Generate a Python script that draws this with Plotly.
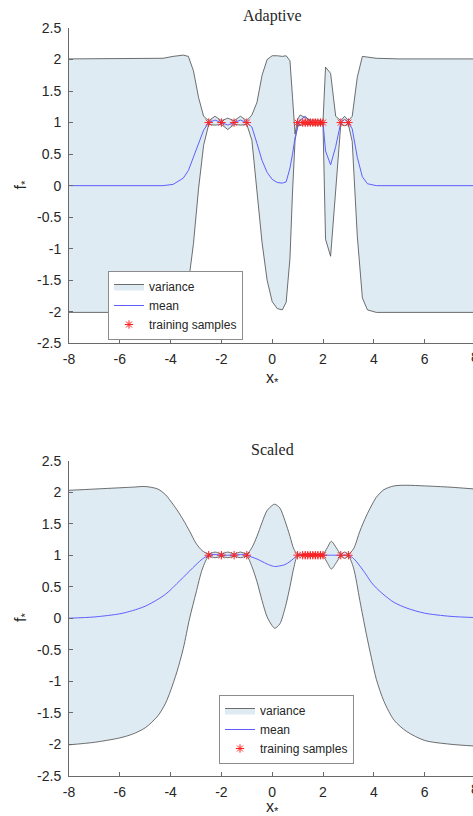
import plotly.graph_objects as go

# ---------------- data ----------------
adaptive_x = [-8, -6, -5, -4.3, -3.9, -3.5, -3.3, -3.1, -2.9, -2.7,
              -2.5, -2.25, -2.0, -1.75, -1.5, -1.25, -1.0, -0.8, -0.6, -0.4,
              -0.2, 0.0, 0.2, 0.4, 0.55, 0.7, 0.8, 0.9, 1.0, 1.1,
              1.3, 1.5, 1.7, 2.0, 2.1, 2.3, 2.5, 2.7, 2.85, 3.0,
              3.15, 3.35, 3.55, 3.75, 4.1, 5, 6, 8]
adaptive_upper = [2.01, 2.01, 2.01, 2.02, 2.05, 2.07, 2.05, 1.82, 1.40, 1.10,
                  1.03, 1.10, 1.03, 1.07, 1.03, 1.10, 1.03, 1.12, 1.32, 1.75,
                  2.00, 2.06, 2.06, 2.05, 2.06, 1.98, 1.40, 0.82, 1.05, 1.12,
                  1.08, 1.04, 1.04, 1.02, 1.88, 1.78, 1.10, 1.03, 1.10, 1.03,
                  1.10, 1.72, 2.05, 2.04, 2.02, 2.01, 2.01, 2.01]
adaptive_mean = [0.0, 0.0, 0.0, 0.0, 0.02, 0.12, 0.24, 0.46, 0.68, 0.88,
                 1.0, 1.04, 1.0, 0.96, 1.0, 1.04, 1.0, 0.93, 0.67, 0.40,
                 0.21, 0.10, 0.05, 0.04, 0.06, 0.28, 0.50, 0.76, 0.92, 1.04,
                 1.10, 1.02, 1.0, 1.0, 0.55, 0.33, 0.62, 1.0, 1.05, 1.0,
                 0.90, 0.45, 0.14, 0.03, 0.0, 0.0, 0.0, 0.0]
adaptive_lower = [-2.01, -2.01, -2.01, -2.02, -2.01, -1.83, -1.55, -0.92, -0.05, 0.64,
                  0.97, 0.96, 0.97, 0.89, 0.97, 0.96, 0.97, 0.72, -0.10, -0.90,
                  -1.50, -1.84, -1.95, -1.97, -1.85, -1.15, -0.10, 0.72, 0.95, 0.96,
                  0.97, 0.97, 0.96, 0.97, -0.85, -1.12, -0.10, 0.97, 0.95, 0.97,
                  0.70, -0.80, -1.78, -1.97, -2.01, -2.01, -2.01, -2.01]

scaled_x = [-8, -7, -6, -5.5, -5.0, -4.5, -4.2, -4.0, -3.75, -3.5,
            -3.25, -3.0, -2.75, -2.5, -2.25, -2.0, -1.75, -1.5, -1.25, -1.0,
            -0.8, -0.6, -0.4, -0.2, 0.0, 0.1, 0.3, 0.5, 0.7, 0.85,
            1.0, 1.5, 2.0, 2.17, 2.33, 2.52, 2.7, 2.85, 3.0, 3.2,
            3.45, 3.7, 3.9, 4.1, 4.4, 4.8, 5.3, 6.0, 7.0, 8.0]
scaled_upper = [2.03, 2.05, 2.07, 2.08, 2.09, 2.05, 1.96, 1.86, 1.72, 1.56,
                1.38, 1.19, 1.07, 1.02, 1.05, 1.02, 1.05, 1.02, 1.05, 1.02,
                1.12, 1.30, 1.52, 1.71, 1.79, 1.81, 1.75, 1.55, 1.30, 1.10,
                1.02, 1.02, 1.02, 1.12, 1.22, 1.12, 1.02, 1.05, 1.02, 1.10,
                1.38, 1.62, 1.78, 1.92, 2.04, 2.10, 2.11, 2.10, 2.08, 2.05]
scaled_mean = [0.0, 0.02, 0.07, 0.12, 0.19, 0.30, 0.38, 0.45, 0.55, 0.65,
               0.75, 0.85, 0.94, 1.0, 1.01, 1.0, 1.0, 1.0, 1.01, 1.0,
               0.97, 0.94, 0.90, 0.86, 0.83, 0.82, 0.83, 0.85, 0.90, 0.95,
               1.0, 1.0, 1.0, 1.0, 1.0, 1.0, 1.0, 1.0, 1.0, 0.95,
               0.83, 0.69, 0.57, 0.48, 0.37, 0.25, 0.16, 0.08, 0.03, 0.01]
scaled_lower = [-2.01, -1.97, -1.90, -1.84, -1.74, -1.55, -1.35, -1.15, -0.85, -0.48,
                0.0, 0.40, 0.78, 0.98, 0.96, 0.98, 0.96, 0.98, 0.96, 0.98,
                0.82, 0.58, 0.28, 0.02, -0.12, -0.16, -0.09, 0.15, 0.50, 0.80,
                0.98, 0.98, 0.98, 0.88, 0.78, 0.88, 0.98, 0.95, 0.98, 0.80,
                0.28, -0.24, -0.62, -0.97, -1.32, -1.62, -1.80, -1.94, -2.00, -2.03]

train_x = [-2.5, -2.0, -1.5, -1.0, 1.0, 1.2, 1.3, 1.4, 1.5, 1.6, 1.7, 1.8, 1.9, 2.0, 2.7, 3.0]
train_y = [1.0, 1.0, 1.0, 1.0, 1.0, 1.0, 1.0, 1.0, 1.0, 1.0, 1.0, 1.0, 1.0, 1.0, 1.0, 1.0]

x_ticks = [-8, -6, -4, -2, 0, 2, 4, 6, 8]
x_ticktext = ['-8', '-6', '-4', '-2', '0', '2', '4', '6', '8']
y_ticks = [-2.5, -2, -1.5, -1, -0.5, 0, 0.5, 1, 1.5, 2, 2.5]
y_ticktext = ['-2.5', '-2', '-1.5', '-1', '-0.5', '0', '0.5', '1', '1.5', '2', '2.5']

# ---------------- styling ----------------
FILL = '#deebf3'
EDGE = '#4a4a4a'
MEAN = '#5f5fff'
STAR = '#ff2020'
SANS = 'Liberation Sans, Arial, Helvetica, sans-serif'
SERIF = 'Liberation Serif, Times New Roman, serif'
AXC = '#6a6a6a'
TXT = '#262626'

W, H = 473, 816
L = 69
PXU = 25.4                       # pixels per x unit in the reference
XMAX = -8 + (W - L) / PXU        # visible right end (reference is cut at the window edge)

fig = go.Figure()


def add_panel(xs, up, mn, lo, xa, ya, leg, shape):
    # variance band: lower edge first, then the upper edge filled down to it
    fig.add_trace(go.Scatter(
        x=xs, y=lo, mode='lines', line=dict(color=EDGE, width=0.8, shape=shape, smoothing=0.8),
        showlegend=False, xaxis=xa, yaxis=ya, legend=leg, hoverinfo='skip'))
    fig.add_trace(go.Scatter(
        x=xs, y=up, mode='lines', fill='tonexty', fillcolor=FILL,
        line=dict(color=EDGE, width=0.8, shape=shape, smoothing=0.8),
        name='variance', xaxis=xa, yaxis=ya, legend=leg, hoverinfo='skip'))
    fig.add_trace(go.Scatter(
        x=xs, y=mn, mode='lines', line=dict(color=MEAN, width=1, shape=shape, smoothing=0.8),
        name='mean', xaxis=xa, yaxis=ya, legend=leg))
    fig.add_trace(go.Scatter(
        x=train_x, y=train_y, mode='markers',
        marker=dict(symbol='asterisk-open', size=7, color=STAR, line=dict(color=STAR, width=1)),
        name='training samples', xaxis=xa, yaxis=ya, legend=leg))


add_panel(adaptive_x, adaptive_upper, adaptive_mean, adaptive_lower, 'x', 'y', 'legend', 'linear')
add_panel(scaled_x, scaled_upper, scaled_mean, scaled_lower, 'x2', 'y2', 'legend2', 'spline')


def xaxis(anchor):
    return dict(domain=[0, 1], anchor=anchor, range=[-8, XMAX], tickvals=x_ticks, ticktext=x_ticktext,
                ticks='inside', ticklen=4, tickcolor=AXC, showline=True, linecolor=AXC, linewidth=1,
                showgrid=False, zeroline=False, tickfont=dict(family=SANS, size=14, color=TXT),
                ticklabelstandoff=3, automargin=False)


def yaxis(anchor, dom):
    return dict(domain=dom, anchor=anchor, range=[-2.5, 2.5], tickvals=y_ticks, ticktext=y_ticktext,
                ticks='inside', ticklen=4, tickcolor=AXC, showline=True, linecolor=AXC, linewidth=1,
                showgrid=False, zeroline=False, tickfont=dict(family=SANS, size=14, color=TXT),
                ticklabelstandoff=4, automargin=False)


def py(px):
    return 1 - px / H


def pxx(px):
    return (px - L) / (W - L)


legend_style = dict(xanchor='left', yanchor='top', bgcolor='white', bordercolor='#8c8c8c',
                    borderwidth=1, font=dict(family=SANS, size=12, color=TXT),
                    tracegroupgap=0, itemwidth=30, traceorder='normal')


def ann(text, x, y, size, family=SANS, angle=0):
    return dict(text=text, x=pxx(x), y=py(y), xref='paper', yref='paper', showarrow=False,
                xanchor='center', yanchor='middle', textangle=angle,
                font=dict(family=family, size=size, color=TXT))


fig.update_layout(
    width=W, height=H, margin=dict(l=L, r=0, t=0, b=0, pad=0, autoexpand=False),
    plot_bgcolor='white', paper_bgcolor='white', showlegend=True,
    xaxis=xaxis('y'), yaxis=yaxis('x', [py(343.3), py(28)]),
    xaxis2=xaxis('y2'), yaxis2=yaxis('x2', [py(775.7), py(460.7)]),
    legend=dict(x=pxx(108), y=py(271), **legend_style),
    legend2=dict(x=pxx(219), y=py(695), **legend_style),
    annotations=[
        ann('Adaptive', 272, 16, 16, SERIF),
        ann('Scaled', 272, 449, 16, SERIF),
        ann('x<sub>*</sub>', 272, 378, 16),
        ann('x<sub>*</sub>', 272, 807, 16),
        ann('f<sub>*</sub>', 21, 185.5, 16, angle=-90),
        ann('f<sub>*</sub>', 21, 618, 16, angle=-90),
        # tick label "8" that sits on the window edge (partly cut off in the reference)
        ann(x_ticktext[-1], 69 + 16 * PXU, 357, 14),
        ann(x_ticktext[-1], 69 + 16 * PXU, 789, 14),
    ],
)

fig.write_html("out.html", config={'displayModeBar': False, 'responsive': False},
               post_script="document.documentElement.style.overflow='hidden';"
                           "document.body.style.margin='0';document.body.style.overflow='hidden';")
